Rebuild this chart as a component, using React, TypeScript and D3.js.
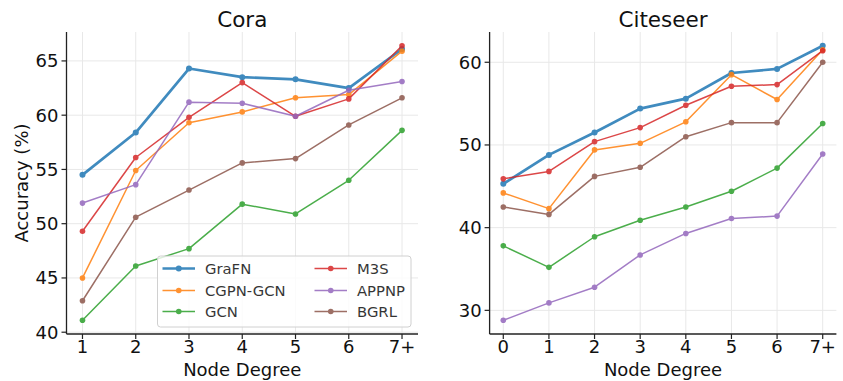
import React from "react";
import * as d3 from "d3";

const methods = ["GraFN", "CGPN-GCN", "GCN", "M3S", "APPNP", "BGRL"];
const colors = ["#1f77b4", "#ff7f0e", "#2ca02c", "#d62728", "#9467bd", "#8c564b"];

const coraLabels = ["1", "2", "3", "4", "5", "6", "7+"];
const coraGraFN = [54.5, 58.4, 64.3, 63.5, 63.3, 62.5, 66.1];
const coraCGPN = [45.0, 54.9, 59.3, 60.3, 61.6, 61.9, 65.9];
const coraGCN = [41.1, 46.1, 47.7, 51.8, 50.9, 54.0, 58.6];
const coraM3S = [49.3, 56.1, 59.8, 63.0, 59.9, 61.5, 66.4];
const coraAPPNP = [51.9, 53.6, 61.2, 61.1, 59.9, 62.3, 63.1];
const coraBGRL = [42.9, 50.6, 53.1, 55.6, 56.0, 59.1, 61.6];

const citeLabels = ["0", "1", "2", "3", "4", "5", "6", "7+"];
const citeGraFN = [45.3, 48.8, 51.5, 54.4, 55.6, 58.7, 59.2, 62.0];
const citeCGPN = [44.2, 42.3, 49.4, 50.2, 52.8, 58.5, 55.5, 61.5];
const citeGCN = [37.8, 35.2, 38.9, 40.9, 42.5, 44.4, 47.2, 52.6];
const citeM3S = [45.9, 46.8, 50.4, 52.1, 54.8, 57.1, 57.3, 61.4];
const citeAPPNP = [28.8, 30.9, 32.8, 36.7, 39.3, 41.1, 41.4, 48.9];
const citeBGRL = [42.5, 41.6, 46.2, 47.3, 51.0, 52.7, 52.7, 60.0];

const coraTicks = [40, 45, 50, 55, 60, 65];
const citeTicks = [30, 40, 50, 60];

const FONT = "DejaVu Sans";
const TOP = 32;
const BOTTOM = 334;

type PanelProps = {
  title: string;
  labels: string[];
  series: number[][];
  yTicks: number[];
  left: number;
  right: number;
  yLabel?: string;
  legend?: boolean;
};

function Panel({ title, labels, series, yTicks, left, right, yLabel, legend }: PanelProps) {
  const n = labels.length;
  const xs = d3.scaleLinear().domain([-0.3, n - 1 + 0.3]).range([left, right]);
  const all = series.flat();
  const [mn, mx] = d3.extent(all) as [number, number];
  const pad = (mx - mn) * 0.05;
  const ys = d3.scaleLinear().domain([mn - pad, mx + pad]).range([BOTTOM, TOP]);
  const line = d3
    .line<number>()
    .x((_, i) => xs(i))
    .y((d) => ys(d));

  const legX = left + 91;
  const legY = 256;
  const colX = [legX + 5, legX + 157];
  const rowY = [legY + 12.5, legY + 34.5, legY + 55.5];

  return (
    <g>
      {/* grid */}
      {labels.map((_, i) => (
        <line key={"gx" + i} x1={xs(i)} x2={xs(i)} y1={TOP} y2={BOTTOM} stroke="#e8e8e8" strokeWidth={1} />
      ))}
      {yTicks.map((t) => (
        <line key={"gy" + t} x1={left} x2={right} y1={ys(t)} y2={ys(t)} stroke="#e8e8e8" strokeWidth={1} />
      ))}
      {/* series */}
      {series.map((s, k) => (
        <g key={"s" + k} opacity={0.85}>
          <path d={line(s) || ""} fill="none" stroke={colors[k]} strokeWidth={k === 0 ? 2.7 : 1.5} strokeLinejoin="round" />
          {s.map((v, i) => (
            <circle key={i} cx={xs(i)} cy={ys(v)} r={k === 0 ? 3 : 2.8} fill={colors[k]} />
          ))}
        </g>
      ))}
      {/* spines */}
      <line x1={left} x2={left} y1={TOP} y2={BOTTOM} stroke="#222" strokeWidth={1.3} />
      <line x1={left} x2={right} y1={BOTTOM} y2={BOTTOM} stroke="#222" strokeWidth={1.3} />
      {/* y ticks */}
      {yTicks.map((t) => (
        <g key={"ty" + t}>
          <line x1={left - 5} x2={left} y1={ys(t)} y2={ys(t)} stroke="#222" strokeWidth={1.2} />
          <text x={left - 8} y={ys(t) + 6.5} textAnchor="end" fontSize={18} fontFamily={FONT} fill="#111">
            {t}
          </text>
        </g>
      ))}
      {/* x ticks */}
      {labels.map((l, i) => (
        <g key={"tx" + i}>
          <line x1={xs(i)} x2={xs(i)} y1={BOTTOM} y2={BOTTOM + 5} stroke="#222" strokeWidth={1.2} />
          <text x={xs(i)} y={353} textAnchor="middle" fontSize={18} fontFamily={FONT} fill="#111">
            {l}
          </text>
        </g>
      ))}
      <text x={(left + right) / 2} y={376} textAnchor="middle" fontSize={18} fontFamily={FONT} fill="#111">
        Node Degree
      </text>
      <text x={(left + right) / 2} y={27} textAnchor="middle" fontSize={21.5} fontFamily={FONT} fill="#111">
        {title}
      </text>
      {yLabel && (
        <text
          transform={`translate(28, ${(TOP + BOTTOM) / 2}) rotate(-90)`}
          textAnchor="middle"
          fontSize={18}
          fontFamily={FONT}
          fill="#111"
        >
          {yLabel}
        </text>
      )}
      {legend && (
        <g>
          <rect x={legX} y={legY} width={253.5} height={71} rx={3} fill="#fff" fillOpacity={0.8} stroke="#d0d0d0" strokeWidth={1} />
          {methods.map((m, k) => {
            const c = Math.floor(k / 3);
            const r = k % 3;
            const x0 = colX[c];
            const y0 = rowY[r];
            return (
              <g key={"l" + k} opacity={0.85}>
                <line x1={x0} x2={x0 + 32.5} y1={y0} y2={y0} stroke={colors[k]} strokeWidth={k === 0 ? 2.7 : 1.5} />
                <circle cx={x0 + 16.25} cy={y0} r={k === 0 ? 3 : 2.8} fill={colors[k]} />
                <text x={x0 + 42.5} y={y0 + 5.3} fontSize={14.8} fontFamily={FONT} fill="#111" opacity={1 / 0.85}>
                  {m}
                </text>
              </g>
            );
          })}
        </g>
      )}
    </g>
  );
}

export default function App() {
  return (
    <svg
      width={843}
      height={381}
      style={{ position: "absolute", left: 0, top: 0, background: "#fff" }}
      xmlns="http://www.w3.org/2000/svg"
    >
      <rect width={843} height={381} fill="#fff" />
      <Panel
        title="Cora"
        labels={coraLabels}
        series={[coraGraFN, coraCGPN, coraGCN, coraM3S, coraAPPNP, coraBGRL]}
        yTicks={coraTicks}
        left={66.5}
        right={418}
        yLabel="Accuracy (%)"
        legend
      />
      <Panel
        title="Citeseer"
        labels={citeLabels}
        series={[citeGraFN, citeCGPN, citeGCN, citeM3S, citeAPPNP, citeBGRL]}
        yTicks={citeTicks}
        left={489.6}
        right={836.4}
      />
    </svg>
  );
}
